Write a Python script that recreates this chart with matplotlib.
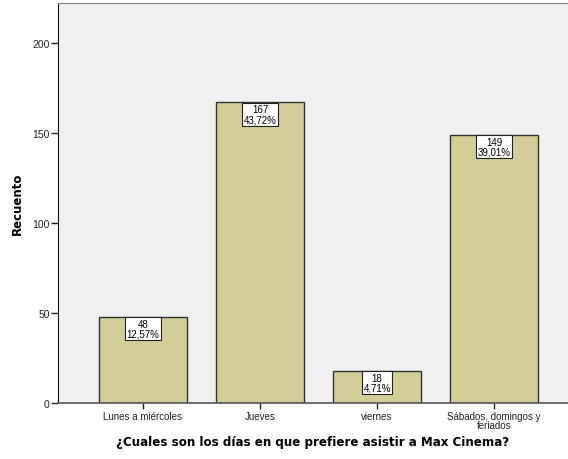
import matplotlib.pyplot as plt
import numpy as np

plt.rcParams['font.family'] = ['Liberation Sans', 'DejaVu Sans']

# === DATA ===
categories = ['Lunes a miércoles', 'Jueves', 'viernes', 'Sábados, domingos y\nferiados']
counts = [48, 167, 18, 149]
percents = ['12,57%', '43,72%', '4,71%', '39,01%']
y_ticks = [0, 50, 100, 150, 200]

BAR_COLOR = '#D3CE97'
BG_COLOR = '#F0F0F0'

fig = plt.figure(figsize=(5.68, 4.60), dpi=100)
ax = fig.add_axes([0.102, 0.1217, 0.898, 0.8696])
ax.set_facecolor(BG_COLOR)

x = np.arange(len(categories))
bars = ax.bar(x, counts, width=0.752, color=BAR_COLOR, edgecolor='#333333', linewidth=1.0, zorder=2)

for xi, c, p in zip(x, counts, percents):
    ax.annotate(f"{c}\n{p}", xy=(xi, c), xytext=(0, -1.5), textcoords='offset points',
                ha='center', va='top', fontsize=7, linespacing=0.95, zorder=3,
                bbox=dict(boxstyle='square,pad=0.15', facecolor='white', edgecolor='#222222', linewidth=0.8))

ax.set_xlim(-0.726, 3.63)
ax.set_ylim(0, 222.2)
ax.set_xticks(x)
ax.set_xticklabels(categories, fontsize=7, linespacing=0.8)
ax.set_yticks(y_ticks)
ax.tick_params(axis='y', labelsize=7.5, length=5, width=1, colors='#222222', pad=1)
ax.tick_params(axis='x', length=4, width=1, colors='#222222', pad=2)

ax.spines['right'].set_visible(False)
ax.spines['top'].set_color('#888888')
ax.spines['left'].set_color('#111111')
ax.spines['bottom'].set_color('#555555')
ax.spines['bottom'].set_linewidth(1.2)

ax.set_ylabel('Recuento', fontsize=8.5, fontweight='bold', family='DejaVu Sans', labelpad=6)
ax.set_xlabel('¿Cuales son los días en que prefiere asistir a Max Cinema?', fontsize=8.6,
              fontweight='bold', family='DejaVu Sans', labelpad=4)

fig.savefig('out.png', dpi=100, facecolor='white')
